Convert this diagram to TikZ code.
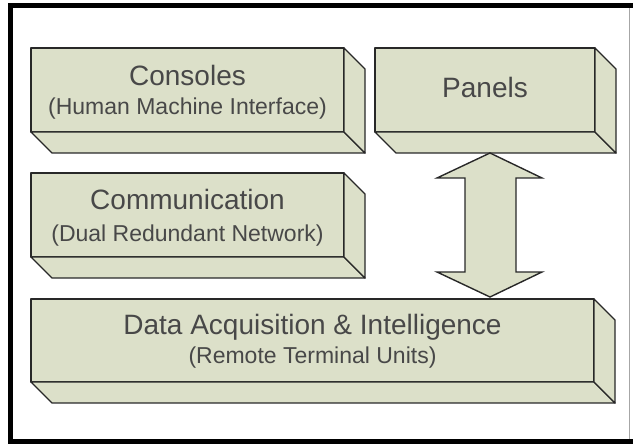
\documentclass[tikz,border=0pt]{standalone}
\usepackage{fontspec}
\setmainfont{Liberation Sans}
\usepackage{tikz}
\usetikzlibrary{positioning}
\definecolor{sage}{RGB}{220,224,201}
\definecolor{ink}{RGB}{40,40,40}
\tikzset{face/.style={draw=ink, line width=1.4pt, fill=sage, line join=round, inner sep=0pt, outer sep=0pt},
  title/.style={font=\fontsize{28}{30}\selectfont, text=ink!85, anchor=base, inner sep=0pt},
  subtitle/.style={font=\fontsize{23}{25}\selectfont, text=ink!85, anchor=base, inner sep=0pt}}
% box with depth: name, x1, y1, x2, y2
\newcommand{\slab}[5]{%
  \node[face, minimum width={(#4-#2)*1pt}, minimum height={(#5-#3)*1pt}] (#1) at ({(#2+#4)/2},{(#3+#5)/2}) {};
  \draw[face] (#1.south west) -- (#1.south east) -- ++(21,21) -- ([shift={(21,21)}]#1.south west) -- cycle;
  \draw[face] (#1.north east) -- ++(21,21) -- ([shift={(21,21)}]#1.south east) -- (#1.south east) -- cycle;}

\begin{document}
\begin{tikzpicture}[x=1pt, y=-1pt]
		\useasboundingbox (0,0) rectangle (633,446);
		% frame
		\draw[black!35, line width=1pt] (629,5) -- (629,442);
		\draw[black, line width=5pt] (633,5.5) -- (10.5,5.5) -- (10.5,441.5) -- (633,441.5);
		% layers
		\slab{cons}{31}{48}{344}{132}
		\slab{pan}{375}{48}{595}{132}
		\slab{comm}{31}{173}{344}{257}
		\slab{daq}{31}{299}{594}{382}
		\node[title] (consT) at ([yshift=-38pt]cons.north) {Consoles};
		\node[subtitle] (consS) at ([yshift=-67pt]cons.north) {(Human Machine Interface)};
		\node[title] (panT) at ([yshift=-50pt]pan.north) {Panels};
		\node[title] (commT) at ([yshift=-37pt]comm.north) {Communication};
		\node[subtitle] (commS) at ([yshift=-69pt]comm.north) {(Dual Redundant Network)};
		\node[title] (daqT) at ([yshift=-36pt]daq.north) {Data Acquisition \& Intelligence};
		\node[subtitle] (daqS) at ([yshift=-65pt]daq.north) {(Remote Terminal Units)};
		% two-way arrow
		\draw[face, line join=miter] (490,153) -- (542,178) -- (516,178) -- (516,272) -- (542,272) -- (490,297)
		  -- (437,272) -- (465,272) -- (465,178) -- (437,178) -- cycle;
\end{tikzpicture}
\end{document}
